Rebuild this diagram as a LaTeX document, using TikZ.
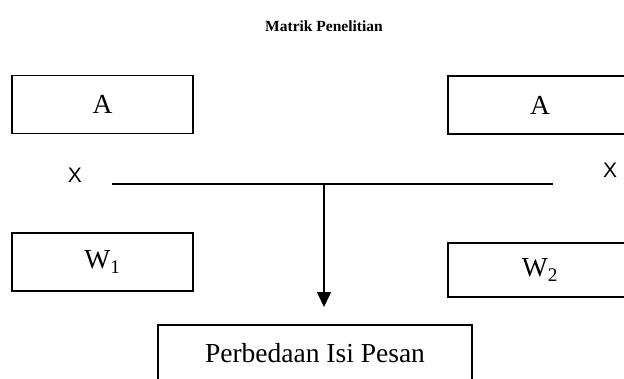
\documentclass[tikz,border=0pt]{standalone}
\usepackage{fontspec}
\setmainfont{Liberation Serif}
\newfontfamily\arialfont{Liberation Sans}
\usetikzlibrary{arrows.meta}
\tikzset{
  boxnode/.style={draw=black, line width=1.8pt, inner sep=0pt, minimum width=181pt, minimum height=58pt, font=\fontsize{27.5}{32}\selectfont},
  xlabel/.style={inner sep=0pt, font=\arialfont\fontsize{21}{24}\selectfont},
  conn/.style={line width=1.5pt, black}
}
\begin{document}
\begin{tikzpicture}[x=1pt,y=-1pt]
\useasboundingbox (0,0) rectangle (624,378);
\clip (0,0) rectangle (624,378);
\node[inner sep=0pt, font=\bfseries\fontsize{15.5}{18}\selectfont] (title) at (324,26) {Matrik Penelitian};
\node[boxnode] (a1) at (102.5,104.5) {A};
\node[boxnode, minimum width=184pt] (a2) at (540,105) {A};
\node[boxnode] (w1) at (102.5,262) {W\textsubscript{1}};
\node[boxnode, minimum width=184pt, minimum height=54pt] (w2) at (540,270) {W\textsubscript{2}};
\node[boxnode, minimum width=314pt, minimum height=56pt] (res) at (315,353) {Perbedaan Isi Pesan};
\node[xlabel] (x1) at (75,175) {X};
\node[xlabel] (x2) at (610,170) {X};
\coordinate (hl) at (112,184);
\coordinate (hr) at (553,184);
\coordinate (hm) at (324,184);
\coordinate (tip) at (324,307);
\draw[conn] (hl) -- (hr);
\draw[conn, -{Triangle[length=15pt,width=14pt]}] (hm) -- (tip);
\end{tikzpicture}
\end{document}
